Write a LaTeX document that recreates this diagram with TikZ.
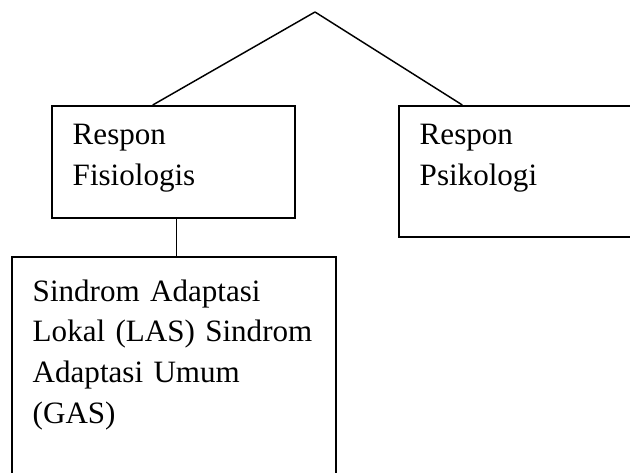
\documentclass[tikz,border=0pt]{standalone}
\usepackage{fontspec}
\setmainfont{Liberation Serif}
\usetikzlibrary{calc}

\begin{document}
\begin{tikzpicture}[x=0.75pt, y=-0.75pt, line width=1.1pt,
  kotak/.style={draw, line width=1.2pt, anchor=north west, inner sep=0pt},
  teks/.style={anchor=base west, inner sep=0pt, text width=240pt, align=left,
    font=\fontsize{23.3}{30.6}\selectfont}]
  \useasboundingbox (0,0) rectangle (630,473);
  \clip (0,0) rectangle (630,473);
  \coordinate (puncak) at (315,12);
  \node[kotak, minimum width=182.25pt, minimum height=84pt] (fis) at (51,105) {};
  \node[kotak, minimum width=182.25pt, minimum height=98.25pt] (psi) at (398,105) {};
  \node[kotak, minimum width=243pt, minimum height=180pt] (sind) at (11,256) {};
  \node[teks] (tfis) at (72,145) {Respon\\Fisiologis};
  \node[teks] (tpsi) at (419,145) {Respon\\Psikologi};
  \node[teks] (tsind) at (32,301) {Sindrom Adaptasi\\Lokal (LAS) Sindrom\\Adaptasi Umum\\(GAS)};
  % garis
  \draw (puncak) -- ($(fis.north west)!0.416!(fis.north east)$);
  \draw (puncak) -- ($(psi.north west)!0.263!(psi.north east)$);
  \draw ($(fis.south west)!0.514!(fis.south east)$) coordinate (kaki) -- (kaki |- sind.north);
\end{tikzpicture}
\end{document}
